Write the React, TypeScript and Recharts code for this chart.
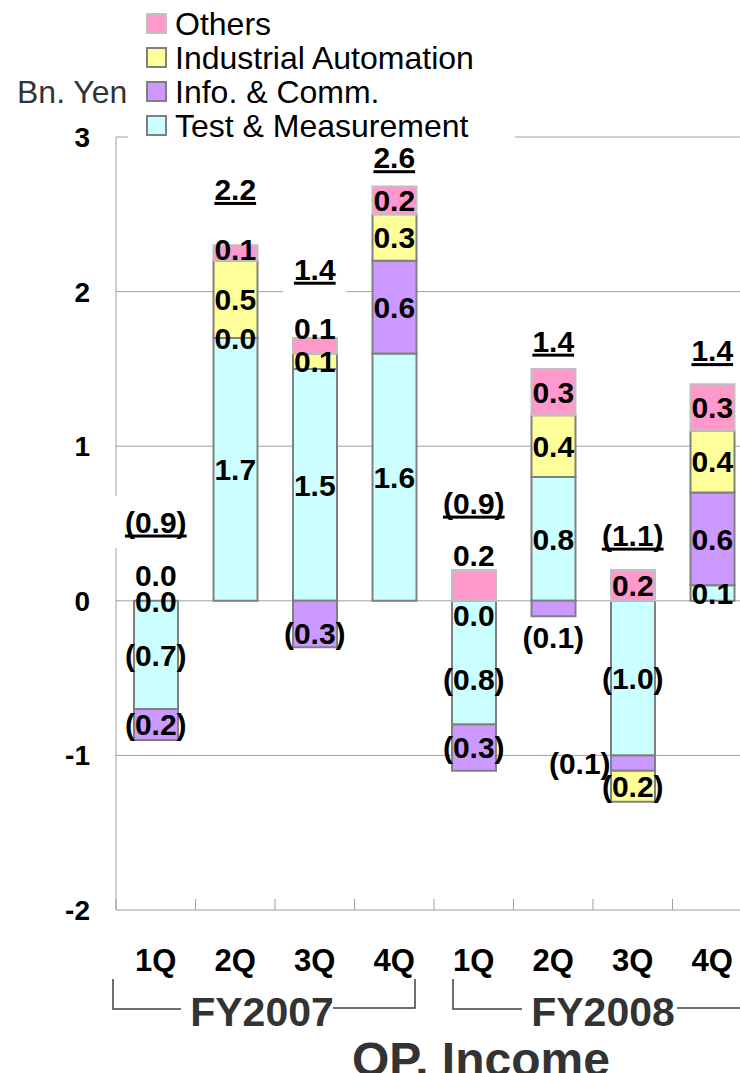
import React from 'react';
import { ComposedChart, Bar, Line, XAxis, YAxis, CartesianGrid, Legend } from 'recharts';

// ---------- data ----------
const categories = ['1Q', '2Q', '3Q', '4Q', '1Q', '2Q', '3Q', '4Q'];
const fiscalYears = ['FY2007', 'FY2008'];
const testMeasurement = [-0.7, 1.7, 1.5, 1.6, -0.8, 0.8, -1.0, 0.1];
const infoComm = [-0.2, 0.0, -0.3, 0.6, -0.3, -0.1, -0.1, 0.6];
const industrialAutomation = [0.0, 0.5, 0.1, 0.3, 0.0, 0.4, -0.2, 0.4];
const others = [0.0, 0.1, 0.1, 0.18, 0.2, 0.3, 0.2, 0.3];
const totals = [-0.9, 2.2, 1.4, 2.6, -0.9, 1.4, -1.1, 1.4];
const yTicks = [-2, -1, 0, 1, 2, 3];
const unitLabel = 'Bn. Yen';
const chartTitle = 'OP. Income';

type Key = 'tm' | 'ic' | 'ia' | 'ot';
const SERIES: { key: Key; name: string; values: number[]; fill: string; stroke: string }[] = [
  { key: 'tm', name: 'Test & Measurement', values: testMeasurement, fill: '#CCFFFF', stroke: '#808080' },
  { key: 'ic', name: 'Info. & Comm.', values: infoComm, fill: '#CC99FF', stroke: '#808080' },
  { key: 'ia', name: 'Industrial Automation', values: industrialAutomation, fill: '#FFFF99', stroke: '#808080' },
  { key: 'ot', name: 'Others', values: others, fill: '#FF99CC', stroke: '#C0C0C0' },
];

// rows for the chart; label anchors are the middles of the sign-stacked segments
const data = categories.map((cat, i) => {
  const row: Record<string, any> = { cat, idx: i, total: totals[i] };
  let pos = 0;
  let neg = 0;
  for (const s of SERIES) {
    const v = s.values[i];
    row[s.key] = v;
    let lo: number;
    let hi: number;
    if (v >= 0) {
      lo = pos;
      hi = pos + v;
      pos = hi;
    } else {
      lo = neg;
      hi = neg + v;
      neg = hi;
    }
    row[`${s.key}Mid`] = (lo + hi) / 2;
  }
  row.top = pos;
  return row;
});

// ---------- styling / label nudges (px) ----------
const FONT = '"Liberation Sans", Arial, sans-serif';
const LABEL_FS = 30;
const LEGEND_FS = 32;
const LABEL_NUDGE: Record<Key, Record<number, [number, number]>> = {
  tm: { 4: [0, 17] },
  ic: { 2: [0, 9], 5: [0, 29], 6: [-53, 0] },
  ia: { 4: [0, 14] },
  ot: { 0: [0, -26], 1: [0, -4], 2: [0, -17], 4: [0, -30] },
};
const TOTAL_GAP = [79, 56, 69, 29, 67, 28, 35, 34];

const CHAR_W: Record<string, number> = { '.': 0.278, '(': 0.333, ')': 0.333, '-': 0.333 };
const textWidth = (s: string, fs: number) =>
  s.split('').reduce((a, c) => a + (CHAR_W[c] ?? 0.556), 0) * fs;
const fmt = (v: number) => {
  const a = Math.abs(v).toFixed(1);
  return v < -0.0001 ? `(${a})` : a;
};

const makeSegmentDot = (key: Key) => (props: any) => {
  const { cx, cy, index } = props;
  const v = data[index]?.[key];
  if (typeof v !== 'number' || typeof cx !== 'number' || typeof cy !== 'number') {
    return <g key={`${key}-${index}`} />;
  }
  const [dx, dy] = LABEL_NUDGE[key][index] || [0, 0];
  return (
    <text
      key={`${key}-${index}`}
      x={cx + dx}
      y={cy + dy + LABEL_FS * 0.358}
      textAnchor="middle"
      fontSize={LABEL_FS}
      fontWeight="bold"
      fill="#000"
      fontFamily={FONT}
    >
      {fmt(v)}
    </text>
  );
};

const renderTotalDot = (props: any) => {
  const { cx, cy, index } = props;
  const t = totals[index];
  if (typeof t !== 'number' || typeof cx !== 'number' || typeof cy !== 'number') {
    return <g key={`tot-${index}`} />;
  }
  const c = cy - TOTAL_GAP[index];
  const s = fmt(t);
  const tw = textWidth(s, LABEL_FS);
  const base = c + LABEL_FS * 0.358;
  return (
    <g key={`tot-${index}`}>
      <rect x={cx - tw / 2 - 11} y={c - 26} width={tw + 22} height={52} fill="#fff" />
      <text x={cx} y={base} textAnchor="middle" fontSize={LABEL_FS} fontWeight="bold" fill="#000" fontFamily={FONT}>
        {s}
      </text>
      <rect x={cx - tw / 2} y={base + 2} width={tw} height={3} fill="#000" />
    </g>
  );
};

const renderXTick = (props: any) => {
  const { x, y, payload } = props;
  const half = typeof payload?.offset === 'number' && payload.offset > 0 ? payload.offset : 39.75;
  return (
    <g>
      <line x1={x - half} x2={x - half} y1={y - 11} y2={y} stroke="#A0A0A0" strokeWidth={1} />
      <text x={x} y={y + 61} textAnchor="middle" fontSize={31} fontWeight="bold" fill="#000" fontFamily={FONT}>
        {payload.value}
      </text>
    </g>
  );
};

const renderLegend = () => {
  const rows = [...SERIES].reverse();
  return (
    <svg width={520} height={142} style={{ display: 'block' }}>
      <rect x={128} y={0} width={387} height={141} fill="#fff" />
      <text x={17} y={103} fontSize={LEGEND_FS} fill="#333" fontFamily={FONT}>
        {unitLabel}
      </text>
      {rows.map((s, i) => (
        <g key={s.key}>
          <rect x={147} y={14 + i * 34} width={19} height={19} fill={s.fill} stroke={s.stroke} strokeWidth={2} />
          <text x={175} y={35 + i * 34} fontSize={LEGEND_FS} fill="#000" fontFamily={FONT}>
            {s.name}
          </text>
        </g>
      ))}
    </svg>
  );
};

export default function App() {
  return (
    <div
      style={{
        position: 'absolute',
        left: 0,
        top: 0,
        width: 740,
        height: 1073,
        overflow: 'hidden',
        background: '#fff',
        fontFamily: FONT,
      }}
    >
      <ComposedChart
        width={760}
        height={1073}
        data={data}
        stackOffset="sign"
        barSize={44}
        margin={{ top: 137, right: 8, bottom: 0, left: 0 }}
      >
        <CartesianGrid
          stroke="#A0A0A0"
          strokeWidth={1}
          vertical={true}
          verticalCoordinatesGenerator={(p: any) => [p.offset.left]}
        />
        <XAxis
          dataKey="cat"
          height={163}
          axisLine={false}
          tickLine={false}
          tickSize={0}
          tickMargin={0}
          interval={0}
          tick={renderXTick}
        />
        <YAxis
          width={116}
          domain={[-2, 3]}
          ticks={yTicks}
          type="number"
          axisLine={false}
          tickLine={false}
          tickSize={0}
          tickMargin={26}
          tick={{ fontSize: 28, fontWeight: 'bold', fill: '#000', fontFamily: FONT }}
        />
        <Legend
          layout="vertical"
          align="center"
          verticalAlign="middle"
          content={renderLegend}
          wrapperStyle={{ position: 'absolute', left: 0, top: 0, width: 520, height: 142 }}
        />
        {SERIES.map((s) => (
          <Bar
            key={s.key}
            dataKey={s.key}
            name={s.name}
            stackId="a"
            fill={s.fill}
            stroke={s.stroke}
            strokeWidth={2}
            isAnimationActive={false}
          />
        ))}
        {SERIES.map((s) => (
          <Line
            key={`lbl-${s.key}`}
            dataKey={`${s.key}Mid`}
            stroke="none"
            legendType="none"
            dot={makeSegmentDot(s.key)}
            activeDot={false}
            isAnimationActive={false}
          />
        ))}
        <Line
          dataKey="top"
          stroke="none"
          legendType="none"
          dot={renderTotalDot}
          activeDot={false}
          isAnimationActive={false}
        />
      </ComposedChart>
      <svg
        width={740}
        height={1073}
        style={{ position: 'absolute', left: 0, top: 0, pointerEvents: 'none' }}
      >
        <g stroke="#404040" strokeWidth={1.5} fill="none">
          <path d="M113 979 V1009 H181" />
          <path d="M333 1008 H415 V979" />
          <path d="M453 979 V1009 H522" />
          <path d="M677 1008 H740" />
        </g>
        <text x={262} y={1026} textAnchor="middle" fontSize={41} fontWeight="bold" fill="#333" fontFamily={FONT}>
          {fiscalYears[0]}
        </text>
        <text x={603} y={1026} textAnchor="middle" fontSize={41} fontWeight="bold" fill="#333" fontFamily={FONT}>
          {fiscalYears[1]}
        </text>
        <text x={352} y={1076} fontSize={48} fontWeight="bold" fill="#333" fontFamily={FONT}>
          {chartTitle}
        </text>
      </svg>
    </div>
  );
}
